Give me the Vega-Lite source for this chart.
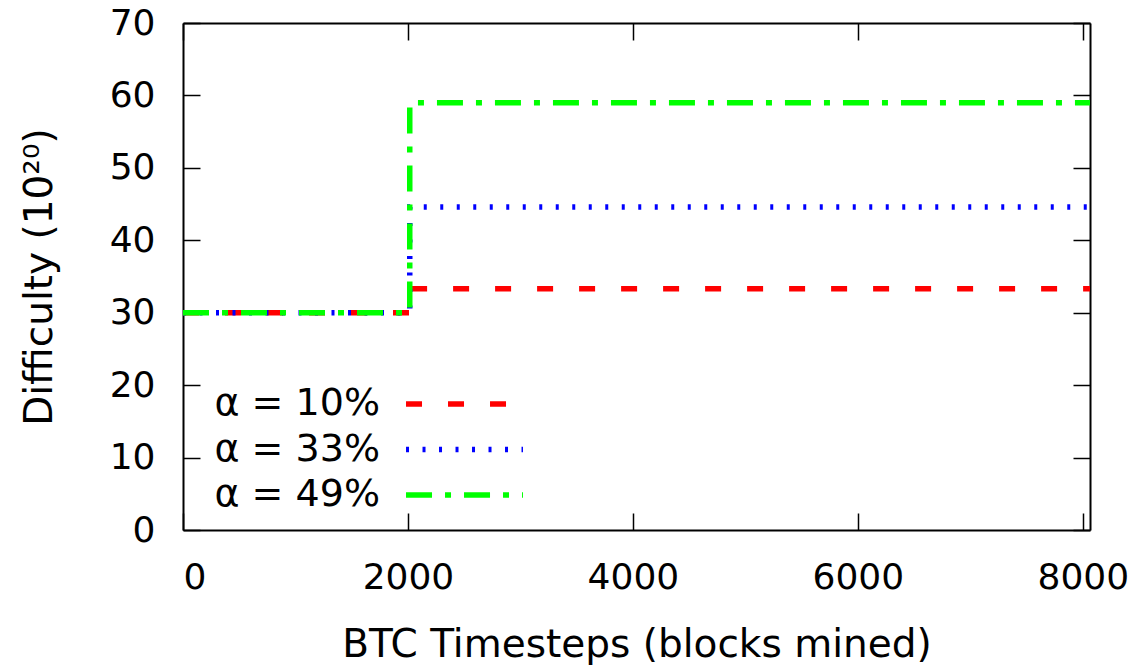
{
  "$schema": "https://vega.github.io/schema/vega-lite/v6.json",
  "width": 907,
  "height": 507,
  "autosize": {"type": "none"},
  "padding": {"left": 183, "top": 23, "right": 53, "bottom": 137},
  "background": "white",
  "config": {
    "view": {"stroke": null},
    "font": "DejaVu Sans",
    "axis": {
      "grid": false,
      "domainColor": "black",
      "domainWidth": 2,
      "tickColor": "black",
      "tickWidth": 1.5,
      "tickSize": -17,
      "labelFont": "DejaVu Sans",
      "labelFontSize": 36,
      "labelColor": "black",
      "titleFont": "DejaVu Sans",
      "titleFontSize": 39,
      "titleFontWeight": "normal",
      "titleColor": "black"
    },
    "legend": {
      "orient": "none",
      "legendX": 262.5,
      "legendY": 362,
      "rowPadding": 7.5,
      "labelAlign": "right",
      "labelOffset": -103.5,
      "labelFont": "DejaVu Sans",
      "labelFontSize": 38,
      "labelColor": "black",
      "labelLimit": 400,
      "padding": 0
    }
  },
  "data": {
    "values": [
      {"series": "α = 10%", "blocks": 0, "difficulty": 30},
      {"series": "α = 10%", "blocks": 2016, "difficulty": 33.3},
      {"series": "α = 10%", "blocks": 8064, "difficulty": 33.3},
      {"series": "α = 33%", "blocks": 0, "difficulty": 30},
      {"series": "α = 33%", "blocks": 2016, "difficulty": 44.6},
      {"series": "α = 33%", "blocks": 8064, "difficulty": 44.6},
      {"series": "α = 49%", "blocks": 0, "difficulty": 30},
      {"series": "α = 49%", "blocks": 2016, "difficulty": 59.0},
      {"series": "α = 49%", "blocks": 8064, "difficulty": 59.0}
    ]
  },
  "layer": [
    {
      "mark": {"type": "line", "interpolate": "step-after", "strokeCap": "butt"},
      "encoding": {
        "x": {
          "field": "blocks",
          "type": "quantitative",
          "scale": {"domain": [0, 8064], "nice": false},
          "axis": {
            "title": "BTC Timesteps (blocks mined)",
            "values": [0, 2000, 4000, 6000, 8000],
            "format": "d",
            "labelPadding": 47,
            "titlePadding": 30
          }
        },
        "y": {
          "field": "difficulty",
          "type": "quantitative",
          "scale": {"domain": [0, 70], "nice": false},
          "axis": {
            "title": "Difficulty (10²⁰)",
            "values": [0, 10, 20, 30, 40, 50, 60, 70],
            "format": "d",
            "labelPadding": 45,
            "titlePadding": 50
          }
        },
        "color": {
          "field": "series",
          "type": "nominal",
          "scale": {"domain": ["α = 10%", "α = 33%", "α = 49%"], "range": ["#ff0000", "#0000ff", "#00ff00"]},
          "legend": {"title": null, "symbolType": "M-6,0H6", "symbolSize": 380}
        },
        "strokeDash": {
          "field": "series",
          "type": "nominal",
          "scale": {"domain": ["α = 10%", "α = 33%", "α = 49%"], "range": [[16, 26], [3, 13.5], [26, 13, 6, 13]]},
          "legend": {"title": null, "symbolType": "M-6,0H6", "symbolSize": 380}
        },
        "strokeWidth": {
          "field": "series",
          "type": "ordinal",
          "scale": {"domain": ["α = 10%", "α = 33%", "α = 49%"], "range": [5.5, 5.5, 7]},
          "legend": {"title": null, "symbolType": "M-6,0H6", "symbolSize": 380}
        }
      }
    },
    {
      "mark": {"type": "line", "opacity": 0},
      "encoding": {
        "x": {
          "field": "blocks",
          "type": "quantitative",
          "axis": {"orient": "top", "labels": false, "title": null, "values": [0, 2000, 4000, 6000, 8000]}
        },
        "y": {
          "field": "difficulty",
          "type": "quantitative",
          "axis": {"orient": "right", "labels": false, "title": null, "values": [0, 10, 20, 30, 40, 50, 60, 70]}
        },
        "detail": {"field": "series", "type": "nominal"}
      }
    }
  ],
  "resolve": {"axis": {"x": "independent", "y": "independent"}}
}
